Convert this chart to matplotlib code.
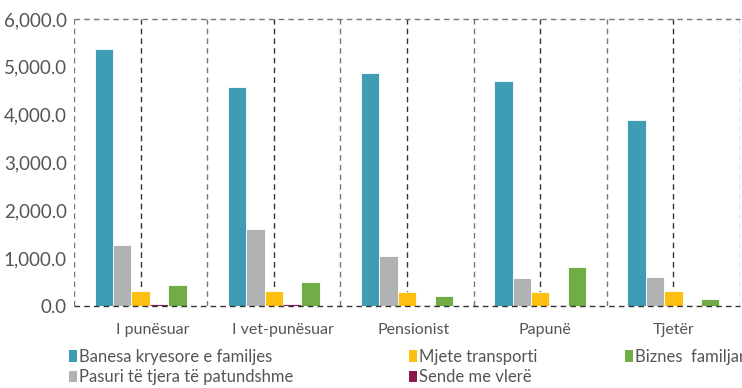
import matplotlib.pyplot as plt
from matplotlib.patches import Patch
from matplotlib.ticker import FuncFormatter, MultipleLocator
import numpy as np

# categories and series (values in thousands)
categories = ['I punësuar', 'I vet-punësuar', 'Pensionist', 'Papunë', 'Tjetër']
series_names = ['Banesa kryesore e familjes', 'Pasuri të tjera të patundshme',
                'Mjete transporti', 'Sende me vlerë', 'Biznes  familjar']
banesa = [5370, 4570, 4870, 4700, 3890]
pasuri = [1280, 1600, 1050, 590, 610]
mjete = [315, 315, 295, 295, 315]
sende = [35, 40, 20, 15, 20]
biznes = [440, 495, 205, 810, 140]
series_values = [banesa, pasuri, mjete, sende, biznes]
series_colors = ['#3f9cb5', '#b1b2b4', '#fdc010', '#8b1a4a', '#70ad47']

plt.rcParams['font.family'] = ['Lato', 'DejaVu Sans']
text_color = '#555555'

fig = plt.figure(figsize = (7.42, 3.88), dpi = 100)
ax = fig.add_axes([74 / 742, 1 - 306 / 388, 666 / 742, 287 / 388])

x = np.arange(len(categories))
width = 0.138
for i, (vals, col) in enumerate(zip(series_values, series_colors)):
	ax.bar(x + (i - 2) * width, vals, width, color = col, edgecolor = 'white', linewidth = 0.6, zorder = 3)

ax.set_xlim(-0.5, len(categories) - 0.5)
ax.set_ylim(0, 6000)

# dashed vertical lines at category centres and boundaries
for xc in x:
	ax.axvline(xc, color = '#333333', linestyle = (0, (4, 3)), linewidth = 1, zorder = 1)
for xb in np.arange(-0.5, len(categories), 1.0):
	ax.axvline(xb, color = '#777777', linestyle = (0, (4, 3)), linewidth = 1, zorder = 1)

for side in ['top', 'bottom', 'left', 'right']:
	ax.spines[side].set_visible(False)
ax.axhline(6000, color = '#777777', linestyle = (0, (4, 3)), linewidth = 1, zorder = 1, clip_on = False)
ax.axhline(0, color = '#333333', linestyle = (0, (4, 3)), linewidth = 1, zorder = 4, clip_on = False)

ax.yaxis.set_major_locator(MultipleLocator(1000))
ax.yaxis.set_major_formatter(FuncFormatter(lambda v, p: '{:,.1f}'.format(v)))
ax.set_xticks(x + np.array([0.09, 0.07, 0.05, 0.035, 0.0]))
ax.set_xticklabels(categories)
ax.tick_params(axis = 'y', length = 0, pad = 5, labelsize = 13.5, labelcolor = text_color)
ax.tick_params(axis = 'x', length = 0, pad = 12, labelsize = 11.5, labelcolor = text_color)

# legend, laid out in three columns
handles = [Patch(facecolor = c, edgecolor = 'none') for c in series_colors]
columns = [([0, 1], 69), ([2, 3], 409), ([4], 625)]
for idx, xpos in columns:
	leg = fig.legend([handles[k] for k in idx], [series_names[k] for k in idx],
		loc = 'upper left', bbox_to_anchor = (xpos / 742, 1 - 349 / 388),
		frameon = False, fontsize = 12, handlelength = 0.5, handleheight = 0.7,
		handletextpad = 0.12, labelspacing = 0.25, borderaxespad = 0, borderpad = 0)
	for t in leg.get_texts():
		t.set_color(text_color)

fig.savefig('out.png', dpi = 100)
